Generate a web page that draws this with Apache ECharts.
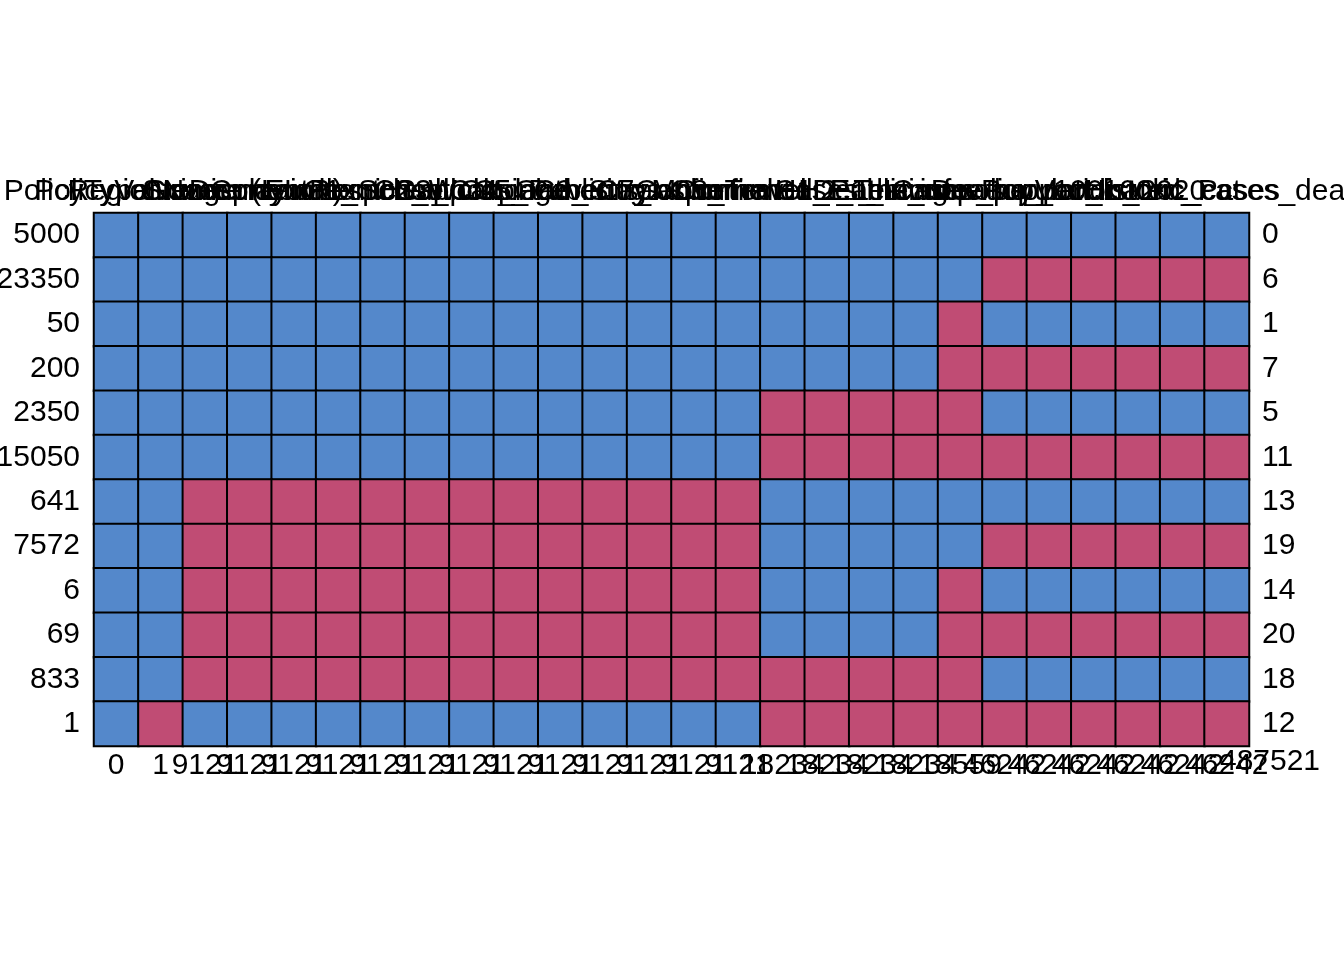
<!DOCTYPE html>
<html>
<head>
<meta charset="utf-8">
<script src="https://cdn.jsdelivr.net/npm/echarts@6/dist/echarts.min.js"></script>
<style>html,body{margin:0;padding:0;background:#fff}#chart{width:1344px;height:960px}</style>
</head>
<body>
<div id="chart"></div>
<script>
// Column (variable) names, shown overlapping at top
const colNames = ["PolicyTypeName","PolicyValueDisplay","RegionName (Local)","StringencyIndex","GovernmentResponse","ContainmentHealth","EconomicSupport","C1_School closing","C2_Workplace","C3_Cancel events","C4_Gatherings","C5_Public transport","C6_Stay at home","C7_Movement","C8_Travel","ConfirmedCases_new","ConfirmedDeaths_new","H1_Public info","H2_Testing policy","E1_Income support","Cases_per_100k","Deaths_per_100k","Population_2020","Vaccinated_Pct","Historic_cases","Historic_cases_death"];
// Number of missing values per column (bottom labels)
const colMissing = ["0","1","9121","9121","9121","9121","9121","9121","9121","9121","9121","9121","9121","9121","9121","18234","18234","18234","18234","18559","46242","46242","46242","46242","46242","46242"];
const totalMissing = "487521";
// Frequency of each pattern (left labels)
const rowCounts = ["5000","23350","50","200","2350","15050","641","7572","6","69","833","1"];
// Number of missing values in each pattern (right labels)
const rowMissing = ["0","6","1","7","5","11","13","19","14","20","18","12"];
// Missingness patterns: 1 = observed, 0 = missing
const patterns = [
  [1,1,1,1,1,1,1,1,1,1,1,1,1,1,1,1,1,1,1,1,1,1,1,1,1,1],
  [1,1,1,1,1,1,1,1,1,1,1,1,1,1,1,1,1,1,1,1,0,0,0,0,0,0],
  [1,1,1,1,1,1,1,1,1,1,1,1,1,1,1,1,1,1,1,0,1,1,1,1,1,1],
  [1,1,1,1,1,1,1,1,1,1,1,1,1,1,1,1,1,1,1,0,0,0,0,0,0,0],
  [1,1,1,1,1,1,1,1,1,1,1,1,1,1,1,0,0,0,0,0,1,1,1,1,1,1],
  [1,1,1,1,1,1,1,1,1,1,1,1,1,1,1,0,0,0,0,0,0,0,0,0,0,0],
  [1,1,0,0,0,0,0,0,0,0,0,0,0,0,0,1,1,1,1,1,1,1,1,1,1,1],
  [1,1,0,0,0,0,0,0,0,0,0,0,0,0,0,1,1,1,1,1,0,0,0,0,0,0],
  [1,1,0,0,0,0,0,0,0,0,0,0,0,0,0,1,1,1,1,0,1,1,1,1,1,1],
  [1,1,0,0,0,0,0,0,0,0,0,0,0,0,0,1,1,1,1,0,0,0,0,0,0,0],
  [1,1,0,0,0,0,0,0,0,0,0,0,0,0,0,0,0,0,0,0,1,1,1,1,1,1],
  [1,0,1,1,1,1,1,1,1,1,1,1,1,1,1,0,0,0,0,0,0,0,0,0,0,0]
];

const BLUE = '#5488CB';
const RED = '#C04C74';
const FONT = 'Liberation Sans, Arial, sans-serif';
const FS = 30;

const cells = [];
patterns.forEach((row, r) => row.forEach((v, c) => cells.push([c, r, v])));
const idx = colNames.map((_, i) => i);
const ridx = rowCounts.map((_, i) => i);

const chart = echarts.init(document.getElementById('chart'), null, {renderer: 'canvas'});
const labelBase = {color: '#000', fontFamily: FONT, fontSize: FS, interval: 0, hideOverlap: false};
const noLines = {axisLine: {show: false}, axisTick: {show: false}, splitLine: {show: false}};
chart.setOption({
  backgroundColor: '#fff',
  animation: false,
  grid: {left: 94, right: 95, top: 213, bottom: 214, containLabel: false, outerBoundsMode: 'none'},
  xAxis: [
    Object.assign({type: 'category', data: idx, position: 'bottom',
      axisLabel: Object.assign({}, labelBase, {margin: 5, formatter: (v, i) => colMissing[i]})}, noLines),
    Object.assign({type: 'category', data: idx, position: 'top',
      axisLabel: Object.assign({}, labelBase, {margin: 6, formatter: (v, i) => colNames[i]})}, noLines)
  ],
  yAxis: [
    Object.assign({type: 'category', data: ridx, inverse: true, position: 'left',
      axisLabel: Object.assign({}, labelBase, {margin: 14, formatter: (v, i) => rowCounts[i]})}, noLines),
    Object.assign({type: 'category', data: ridx, inverse: true, position: 'right',
      axisLabel: Object.assign({}, labelBase, {margin: 13, formatter: (v, i) => rowMissing[i]})}, noLines)
  ],
  visualMap: {show: false, type: 'piecewise', dimension: 2, seriesIndex: 0,
    pieces: [{value: 0, color: RED}, {value: 1, color: BLUE}]},
  series: [{
    type: 'heatmap', xAxisIndex: 0, yAxisIndex: 0, data: cells,
    itemStyle: {borderColor: '#000', borderWidth: 2},
    emphasis: {disabled: true}
  }],
  graphic: [{
    type: 'text', x: 1270, y: 762, silent: true,
    style: {text: totalMissing, fill: '#000', font: FS + 'px ' + FONT, textAlign: 'center', textVerticalAlign: 'middle'}
  }]
});
</script>
</body>
</html>
